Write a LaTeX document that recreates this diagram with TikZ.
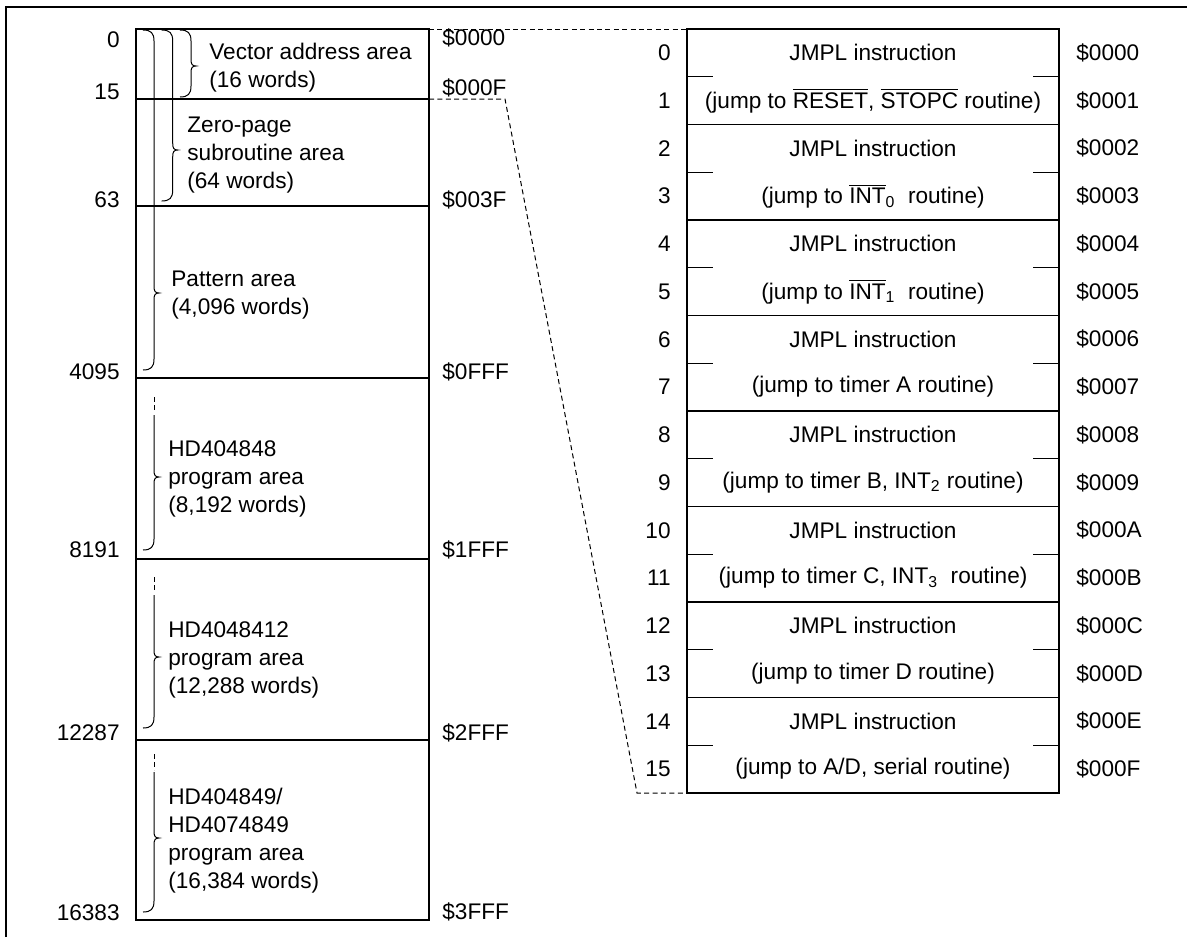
\documentclass[tikz,border=0pt]{standalone}
\usepackage{fontspec}
\setmainfont{Liberation Sans}
\newcommand\ovl[1]{$\overline{\mbox{#1}}$}
\newcommand\mybrace[4]{%
  \draw[bracel] (#1-11,#2) .. controls (#1-3,#2) and (#1,#2+3) .. (#1,#2+11)
    -- (#1,#3-7) .. controls (#1,#3-2) and (#1+1,#3) .. (#1+5,#3)
    .. controls (#1+1,#3) and (#1,#3+2) .. (#1,#3+7)
    -- (#1,#4-11) .. controls (#1,#4-3) and (#1-3,#4) .. (#1-11,#4);}
\newcommand\mybraced[4]{%
  \draw[bracel, dash pattern=on 2.5pt off 1.5pt] (#1,#2) -- (#1,#2+16);
  \draw[bracel] (#1,#2+18)
    -- (#1,#3-7) .. controls (#1,#3-2) and (#1+1,#3) .. (#1+5,#3)
    .. controls (#1+1,#3) and (#1,#3+2) .. (#1,#3+7)
    -- (#1,#4-11) .. controls (#1,#4-3) and (#1-3,#4) .. (#1-11,#4);}
\begin{document}
\begin{tikzpicture}[x=0.5pt,y=-0.5pt,
  font=\fontsize{11.3}{14}\selectfont,
  boxl/.style={line width=0.7pt},
  bracel/.style={line width=0.5pt},
  conn/.style={line width=0.5pt, dash pattern=on 2.5pt off 1.7pt},
  lab/.style={inner sep=0pt},
  area/.style={inner sep=0pt, anchor=west, align=left}]
\useasboundingbox (0,0) rectangle (1187,937);
% outer frame
\draw[line width=1pt] (6,937) -- (6,7) -- (1187,7);
% memory box
\coordinate (bTL) at (136,29);
\coordinate (bTR) at (429,29);
\coordinate (b15) at (429,99);
\coordinate (bBR) at (429,920);
\draw[boxl] (bTL) rectangle (bBR);
\foreach \y in {99,206,378,559,740} \draw[boxl] (136,\y) -- (429,\y);
% left numbers
\foreach \t/\y in {0/40,15/92,63/200,4095/372,8191/550,12287/733,16383/913}
  \node[lab, anchor=east] (n\t) at (120,\y) {\t};
% addresses
\foreach \t/\y in {0000/38,000F/88,003F/200,0FFF/372,1FFF/550,2FFF/733,3FFF/912}
  \node[lab, anchor=west] (a\t) at (442,\y) {\$\t};
% braces
\mybrace{191}{30}{66}{97}
\mybrace{172.7}{30}{150}{201}
\mybrace{154}{30}{293}{370}
\mybraced{154}{397}{477}{550}
\mybraced{154}{577}{657}{728}
\mybraced{154}{754}{838}{912}
% area texts
\node[area] (tv) at (209,68) {Vector address area\\(16 words)};
\node[area] (tz) at (187,155) {Zero-page\\subroutine area\\(64 words)};
\node[area] (tp) at (171,295) {Pattern area\\(4,096 words)};
\node[area] (t8) at (168,479) {HD404848\\program area\\(8,192 words)};
\node[area] (t12) at (168,660) {HD4048412\\program area\\(12,288 words)};
\node[area] (t16) at (168,841) {HD404849/\\HD4074849\\program area\\(16,384 words)};
% vector table
\coordinate (tTL) at (687,29);
\coordinate (tBL) at (687,793);
\coordinate (tBR) at (1059,793);
\draw[boxl] (tTL) rectangle (tBR);
\foreach \k in {1,...,7} \draw[boxl] (687,29+95.5*\k) -- (1059,29+95.5*\k);
\foreach \k in {0,...,7} {
  \draw[boxl] (687,76.75+95.5*\k) -- (713,76.75+95.5*\k);
  \draw[boxl] (1033,76.75+95.5*\k) -- (1059,76.75+95.5*\k);
}
\foreach \k in {0,...,15} {
  \node[lab, anchor=east] (r\k) at (671,{29+47.75*(\k+0.5)}) {\k};
}
\foreach \k/\a in {0/0000,1/0001,2/0002,3/0003,4/0004,5/0005,6/0006,7/0007,8/0008,9/0009,10/000A,11/000B,12/000C,13/000D,14/000E,15/000F}
  \node[lab, anchor=west] (ra\k) at (1076,{29+47.75*(\k+0.5)}) {\$\a};
\foreach \k in {0,2,...,14}
  \node[lab] (rt\k) at (873,{29+47.75*(\k+0.5)}) {JMPL instruction};
\node[lab] (rt1) at (873,{29+47.75*1.5}) {(jump to \ovl{RESET}, \ovl{STOPC} routine)};
\node[lab] (rt3) at (873,{29+47.75*3.5}) {(jump to \ovl{INT}\textsubscript{0}\ \ routine)};
\node[lab] (rt5) at (873,{29+47.75*5.5}) {(jump to \ovl{INT}\textsubscript{1}\ \ routine)};
\node[lab] (rt7) at (873,{29+47.75*7.5}) {(jump to timer A routine)};
\node[lab] (rt9) at (873,{29+47.75*9.5}) {(jump to timer B, INT\textsubscript{2} routine)};
\node[lab] (rt11) at (873,{29+47.75*11.5}) {(jump to timer C, INT\textsubscript{3}\ \ routine)};
\node[lab] (rt13) at (873,{29+47.75*13.5}) {(jump to timer D routine)};
\node[lab] (rt15) at (873,{29+47.75*15.5}) {(jump to A/D, serial routine)};
% dashed connectors
\coordinate (c1) at (505,99);
\coordinate (c2) at (637,793);
\draw[conn] (bTR) -- (tTL);
\draw[conn] (b15) -- (c1) -- (c2) -- (tBL);
\end{tikzpicture}
\end{document}
